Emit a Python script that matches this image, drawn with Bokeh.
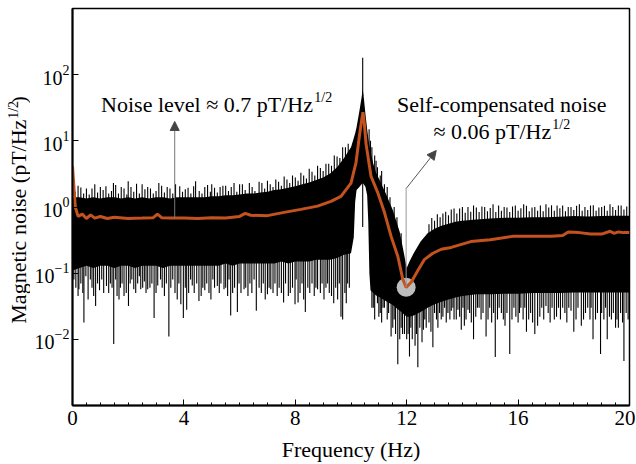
import numpy as np
from bokeh.plotting import figure
from bokeh.layouts import row
from bokeh.models import FixedTicker, Label, Arrow, NormalHead, Range1d
from bokeh.core.properties import value
from bokeh.embed import file_html
from bokeh.resources import INLINE

# ---------------- data ----------------
x_ticks = [0, 4, 8, 12, 16, 20]
y_ticks = [1e-2, 1e-1, 1e0, 1e1, 1e2]

# dense black noise band: frequency, upper and lower edge (pT/Hz^1/2)
band_f = [0.0, 0.25, 0.5, 0.75, 1.0, 1.25, 1.5, 1.75, 2.0, 2.25, 2.5, 2.75, 3.0, 3.25, 3.5, 3.75,
          4.0, 4.25, 4.5, 4.75, 5.0, 5.25, 5.5, 5.75, 6.0, 6.25, 6.5, 6.75, 7.0, 7.25, 7.5, 7.75,
          8.0, 8.25, 8.5, 8.75, 9.0, 9.25, 9.5, 9.75,
          10.0, 10.1, 10.15, 10.2, 10.3, 10.38, 10.42, 10.46, 10.52, 10.58, 10.62, 10.66, 10.7, 10.8, 10.9, 11.0,
          11.25, 11.5, 11.75, 11.9, 12.0, 12.1, 12.25, 12.5, 12.75, 13.0,
          13.25, 13.5, 13.75, 14.0,
          14.5, 15.0, 15.5, 16.0, 16.5, 17.0, 17.5, 18.0, 18.5, 19.0, 19.5, 20.0]
band_hi = [1.4, 1.4, 1.35, 1.4, 1.35, 1.4, 1.4, 1.35, 1.4, 1.35, 1.4, 1.35, 1.4, 1.4, 1.35, 1.4,
           1.4, 1.4, 1.4, 1.4, 1.45, 1.45, 1.5, 1.5, 1.55, 1.6, 1.6, 1.65, 1.7, 1.8, 1.85, 1.95,
           2.05, 2.2, 2.35, 2.55, 2.8, 3.2, 4.0, 5.5,
           8.0, 11.0, 13.0, 16.0, 28.0, 45.0, 60.0, 45.0, 25.0, 15.0, 11.0, 8.5, 7.0, 4.5, 3.3, 2.7,
           1.6, 0.9, 0.42, 0.2, 0.12, 0.15, 0.2, 0.3, 0.4, 0.47,
           0.52, 0.56, 0.6, 0.62,
           0.65, 0.67, 0.69, 0.69, 0.7, 0.7, 0.71, 0.73, 0.72, 0.73, 0.74, 0.74]
band_lo = [0.11, 0.12, 0.13, 0.12, 0.13, 0.13, 0.12, 0.13, 0.13, 0.12, 0.13, 0.13, 0.13, 0.12, 0.13, 0.13,
           0.13, 0.13, 0.13, 0.13, 0.13, 0.13, 0.14, 0.13, 0.14, 0.14, 0.14, 0.14, 0.14, 0.14, 0.15, 0.14,
           0.15, 0.15, 0.15, 0.16, 0.16, 0.16, 0.17, 0.19,
           0.2, 0.35, 1.2, 1.8, 2.0, 2.2, 2.3, 2.2, 2.0, 1.5, 0.6, 0.1, 0.055, 0.05, 0.046, 0.044,
           0.038, 0.033, 0.027, 0.024, 0.022, 0.022, 0.023, 0.026, 0.03, 0.034,
           0.037, 0.04, 0.043, 0.045,
           0.048, 0.048, 0.049, 0.049, 0.05, 0.05, 0.05, 0.051, 0.051, 0.051, 0.051, 0.051]

# deep downward spikes of the raw spectrum
dip_f = [0.2, 0.23, 0.41, 0.56, 0.64, 0.83, 1.12, 1.22, 1.48, 1.6, 1.67, 1.85, 2.01, 2.2, 2.34, 2.45,
         2.7, 2.93, 3.16, 3.46, 3.76, 3.89, 3.98, 4.1, 4.24, 4.54, 4.62, 4.97, 5.2, 5.44, 5.68, 5.92,
         6.16, 6.6, 7.0, 7.12, 7.58, 7.75, 7.99, 8.1, 8.36, 8.8, 9.16, 9.3, 9.64, 9.7, 9.88, 10.42,
         10.75, 11.0, 11.2, 11.44, 11.68, 11.85, 12.1, 12.3, 12.4, 12.55, 12.7, 12.94, 13.0, 13.24,
         13.6, 13.7, 13.96, 14.07, 14.2, 14.4, 14.6, 14.85, 15.18, 15.4, 15.7, 16.0, 16.1, 16.3,
         16.6, 16.7, 17.0, 17.3, 17.6, 17.9, 18.0, 18.27, 18.5, 18.69, 18.96, 19.0, 19.2, 19.35,
         19.5, 19.6, 19.8]
dip_v = [0.045, 0.057, 0.018, 0.04, 0.08, 0.032, 0.05, 0.064, 0.0085, 0.045, 0.04, 0.045, 0.032, 0.057, 0.07, 0.057,
         0.057, 0.021, 0.08, 0.011, 0.04, 0.034, 0.021, 0.028, 0.08, 0.038, 0.045, 0.04, 0.064, 0.057, 0.023, 0.026,
         0.057, 0.027, 0.048, 0.057, 0.036, 0.045, 0.034, 0.036, 0.026, 0.057, 0.07, 0.045, 0.022, 0.02, 0.07, 0.5,
         0.03, 0.022, 0.03, 0.011, 0.0042, 0.012, 0.0055, 0.008, 0.0038, 0.009, 0.015, 0.0076, 0.025, 0.02,
         0.027, 0.02, 0.014, 0.016, 0.028, 0.01, 0.03, 0.011, 0.0054, 0.025, 0.006, 0.018, 0.03, 0.013,
         0.012, 0.016, 0.032, 0.02, 0.03, 0.027, 0.013, 0.016, 0.03, 0.01, 0.006, 0.025, 0.01, 0.02,
         0.015, 0.015, 0.0047]

# shallow downward fringe of the raw spectrum
fringe_dn_f = [0.05, 0.12, 0.3, 0.37, 0.48, 0.7, 0.76, 0.9, 0.97, 1.05, 1.3, 1.36, 1.42, 1.55, 1.72, 1.78,
               1.93, 2.07, 2.13, 2.27, 2.4, 2.52, 2.58, 2.64, 2.78, 2.85, 3.0, 3.06, 3.22, 3.3, 3.37, 3.53,
               3.6, 3.68, 3.82, 4.05, 4.17, 4.3, 4.37, 4.46, 4.68, 4.75, 4.82, 4.9, 5.04, 5.1, 5.27, 5.33,
               5.5, 5.57, 5.62, 5.75, 5.82, 5.98, 6.05, 6.22, 6.3, 6.37, 6.44, 6.52, 6.7, 6.78, 6.85, 6.92,
               7.06, 7.2, 7.27, 7.35, 7.42, 7.5, 7.65, 7.82, 7.9, 8.03, 8.17, 8.24, 8.3, 8.45, 8.52, 8.6,
               8.68, 8.74, 8.9, 8.96, 9.03, 9.1, 9.22, 9.38, 9.45, 9.52, 9.58, 9.78, 9.83, 9.94,
               10.8, 10.85, 10.95, 11.05, 11.1, 11.15, 11.3, 11.35, 11.5, 11.55, 11.6, 11.75, 11.8, 11.92,
               12.0, 12.05, 12.15, 12.2, 12.35, 12.47, 12.6, 12.65, 12.8, 12.87, 13.07, 13.12, 13.18, 13.3,
               13.36, 13.42, 13.48, 13.55, 13.66, 13.78, 13.84, 13.9, 14.02, 14.13, 14.26, 14.32, 14.48,
               14.54, 14.67, 14.74, 14.92, 14.98, 15.05, 15.12, 15.26, 15.32, 15.47, 15.53, 15.6, 15.78,
               15.85, 15.92, 16.05, 16.18, 16.24, 16.38, 16.45, 16.52, 16.78, 16.85, 16.92, 17.08, 17.15,
               17.22, 17.38, 17.45, 17.52, 17.68, 17.75, 17.82, 18.08, 18.15, 18.35, 18.42, 18.58, 18.62,
               18.78, 18.85, 19.08, 19.14, 19.28, 19.42, 19.55, 19.68, 19.75, 19.88, 19.95]
fringe_dn_v = [0.08, 0.06, 0.07, 0.05, 0.09, 0.06, 0.045, 0.07, 0.055, 0.08, 0.05, 0.07, 0.06, 0.08, 0.06, 0.07,
               0.05, 0.07, 0.08, 0.05, 0.09, 0.06, 0.075, 0.05, 0.06, 0.07, 0.05, 0.065, 0.06, 0.045, 0.07, 0.06,
               0.08, 0.05, 0.07, 0.06, 0.05, 0.065, 0.05, 0.07, 0.06, 0.055, 0.07, 0.05, 0.08, 0.06, 0.05, 0.07,
               0.06, 0.045, 0.08, 0.05, 0.06, 0.07, 0.05, 0.06, 0.045, 0.07, 0.05, 0.08, 0.06, 0.05, 0.07, 0.04,
               0.06, 0.05, 0.07, 0.045, 0.06, 0.05, 0.07, 0.05, 0.06, 0.08, 0.05, 0.07, 0.04, 0.06, 0.05, 0.07,
               0.045, 0.06, 0.05, 0.07, 0.04, 0.06, 0.05, 0.035, 0.06, 0.04, 0.07, 0.05, 0.035, 0.06,
               0.03, 0.02, 0.035, 0.025, 0.018, 0.03, 0.02, 0.025, 0.015, 0.02, 0.012, 0.01, 0.015, 0.012,
               0.01, 0.012, 0.015, 0.01, 0.012, 0.015, 0.014, 0.02, 0.018, 0.013, 0.02, 0.015, 0.025, 0.022,
               0.03, 0.018, 0.025, 0.02, 0.03, 0.02, 0.028, 0.022, 0.03, 0.02, 0.025, 0.018, 0.022,
               0.03, 0.02, 0.025, 0.02, 0.03, 0.018, 0.025, 0.02, 0.03, 0.02, 0.016, 0.025, 0.02,
               0.03, 0.022, 0.025, 0.02, 0.03, 0.02, 0.025, 0.018, 0.022, 0.03, 0.02, 0.025, 0.018,
               0.03, 0.022, 0.03, 0.02, 0.025, 0.018, 0.03, 0.02, 0.03, 0.02, 0.025, 0.02, 0.03,
               0.02, 0.025, 0.02, 0.03, 0.022, 0.025, 0.02, 0.025, 0.018, 0.025, 0.02]

# tall upward spikes of the raw spectrum
peak_f = [0.3, 0.7, 1.0, 1.47, 1.75, 2.0, 2.5, 2.8, 3.1, 3.4, 3.85, 4.15, 4.42, 4.75, 5.0, 5.3, 5.5,
          5.8, 6.1, 6.35, 6.7, 7.0, 7.3, 7.6, 7.9, 8.2, 8.5, 8.8, 9.1, 9.4, 9.7, 10.42, 10.7, 10.9, 11.1,
          13.3, 13.7, 14.0, 14.4, 14.8, 15.1, 15.5, 15.9, 16.2, 16.6, 17.0, 17.4, 17.8, 18.2, 18.6,
          19.0, 19.3, 19.7]
peak_v = [1.97, 1.9, 2.0, 2.3, 2.0, 2.45, 2.2, 1.9, 2.3, 2.0, 2.06, 1.95, 2.45, 2.0, 2.2, 2.0, 2.1,
          2.3, 2.2, 2.3, 2.4, 2.5, 2.6, 2.9, 3.0, 3.3, 3.8, 4.2, 4.5, 6.0, 8.0, 180.0, 10.0, 5.0, 3.5,
          0.8, 0.95, 1.0, 1.05, 1.0, 1.1, 1.0, 1.05, 1.1, 1.0, 1.1, 1.05, 1.0, 1.1, 1.05,
          1.0, 1.1, 1.05]

# short upward fringe of the raw spectrum
fringe_up_f = [0.1, 0.2, 0.4, 0.5, 0.6, 0.8, 0.9, 1.1, 1.2, 1.3, 1.4, 1.55, 1.65, 1.85, 1.95, 2.1, 2.2, 2.3,
               2.4, 2.6, 2.7, 2.9, 3.0, 3.2, 3.3, 3.5, 3.6, 3.7, 3.95, 4.05, 4.25, 4.35, 4.55, 4.65, 4.85,
               4.95, 5.1, 5.2, 5.4, 5.6, 5.7, 5.9, 6.0, 6.2, 6.45, 6.55, 6.8, 6.9, 7.1, 7.2, 7.4, 7.5, 7.7,
               7.8, 8.0, 8.1, 8.3, 8.4, 8.6, 8.7, 8.9, 9.0, 9.2, 9.3, 9.5, 9.6, 9.8, 9.9,
               10.65, 10.75, 10.85, 10.95, 11.05, 11.2, 11.3, 11.4, 11.55, 11.65, 11.8,
               12.8, 12.9, 13.0, 13.1, 13.2, 13.4, 13.5, 13.6, 13.8, 13.9, 14.1, 14.2, 14.3, 14.5, 14.6,
               14.7, 14.9, 15.0, 15.2, 15.3, 15.4, 15.6, 15.7, 15.8, 16.0, 16.1, 16.3, 16.4, 16.5, 16.7,
               16.8, 16.9, 17.1, 17.2, 17.3, 17.5, 17.6, 17.7, 17.9, 18.0, 18.1, 18.3, 18.4, 18.5, 18.7,
               18.8, 18.9, 19.1, 19.2, 19.4, 19.5, 19.6, 19.8, 19.9]
fringe_up_v = [1.7, 2.1, 1.6, 1.9, 1.55, 2.2, 1.65, 1.8, 2.05, 1.6,
               1.75, 2.15, 1.6, 1.9, 1.55, 2.0, 1.7, 2.25, 1.6, 1.85,
               2.0, 1.6, 1.75, 2.1, 1.65, 1.9, 1.6, 2.2, 1.7, 1.85,
               1.6, 2.05, 1.75, 1.6, 2.15, 1.7, 1.95, 1.65, 2.1, 1.75,
               2.0, 1.7, 2.2, 1.8, 2.0, 1.75, 2.3, 1.9, 2.2, 2.0,
               2.4, 2.1, 2.6, 2.3, 2.8, 2.5, 3.0, 2.7, 3.4, 3.0,
               3.9, 3.5, 4.5, 4.2, 5.8, 5.5, 8.0, 9.0,
               15.0, 8.0, 6.0, 4.0, 3.0, 2.2, 2.0, 1.4, 1.0, 0.7, 0.4,
               0.55, 0.68, 0.62, 0.78, 0.7, 0.85, 0.75, 0.92, 0.8, 0.95,
               0.82, 1.0, 0.85, 0.98, 0.84, 1.02, 0.86, 0.97, 0.84, 1.05,
               0.88, 0.98, 0.84, 1.02, 0.88, 0.96, 1.04, 0.86, 0.98, 0.88,
               1.05, 0.86, 0.98, 1.06, 0.88, 0.96, 1.05, 0.86, 1.0, 0.9,
               1.04, 0.88, 1.0, 0.9, 1.06, 0.88, 0.98, 1.04, 0.88, 1.0,
               0.9, 1.05, 0.92, 1.02]

# smoothed spectrum (orange)
smooth_f = [0.0, 0.1, 0.2, 0.35, 0.5, 0.65, 0.8, 1.0, 1.25, 1.5, 2.0, 2.5, 2.9, 3.05, 3.2, 3.5,
            4.0, 4.5, 5.0, 5.5, 6.0, 6.2, 6.4, 7.0, 7.6, 8.2, 8.8, 9.28, 9.64, 10.0, 10.18, 10.3,
            10.4, 10.43, 10.48, 10.54, 10.72, 10.96, 11.2, 11.44, 11.68, 11.86, 11.98, 12.16, 12.4,
            12.63, 12.94, 13.24, 13.6, 14.3, 15.0, 15.8, 16.5, 17.2, 17.6, 17.8, 18.2, 18.6, 19.0,
            19.3, 19.45, 19.6, 19.8, 20.0]
smooth_v = [4.1, 1.0, 0.72, 0.78, 0.67, 0.76, 0.68, 0.72, 0.67, 0.70, 0.67, 0.68, 0.69, 0.78, 0.69, 0.68,
            0.68, 0.67, 0.69, 0.68, 0.72, 0.8, 0.75, 0.74, 0.83, 0.92, 1.03, 1.22, 1.45, 2.3, 4.7, 11.7,
            23.0, 27.0, 18.0, 9.0, 2.9, 1.65, 0.83, 0.36, 0.18, 0.081, 0.061, 0.073, 0.11,
            0.16, 0.2, 0.23, 0.245, 0.3, 0.32, 0.36, 0.36, 0.36, 0.37, 0.42, 0.41, 0.39, 0.39,
            0.43, 0.40, 0.42, 0.41, 0.41]

assert len(band_f) == len(band_hi) == len(band_lo)
assert len(dip_f) == len(dip_v) and len(peak_f) == len(peak_v)
assert len(fringe_dn_f) == len(fringe_dn_v) and len(fringe_up_f) == len(fringe_up_v)
assert len(smooth_f) == len(smooth_v)

SERIF = "Liberation Serif"
ORANGE = "#c4521e"
FRAME_W, FRAME_H = 557, 397
TOP, BOTTOM, LEFT, RIGHT = 8, 57, 42, 6
TOTAL_H = TOP + FRAME_H + BOTTOM
YLAB_W = 30

p = figure(frame_width=FRAME_W, frame_height=FRAME_H, x_range=(0, 20), y_range=(1e-3, 1e3),
           y_axis_type="log", output_backend="svg", toolbar_location=None,
           min_border_left=LEFT, min_border_right=RIGHT, min_border_top=TOP, min_border_bottom=BOTTOM)
p.grid.visible = False
p.outline_line_color = "black"
p.outline_line_width = 1.5

# axes
p.xaxis.ticker = FixedTicker(ticks=x_ticks, minor_ticks=list(np.arange(0, 20.01, 0.5)))
p.yaxis.ticker = FixedTicker(ticks=y_ticks, minor_ticks=[])
for ax in (p.xaxis[0], p.yaxis[0]):
    ax.axis_line_width = 2
    ax.axis_line_color = "black"
    ax.major_tick_in = 6
    ax.major_tick_out = 0
    ax.minor_tick_in = 3
    ax.minor_tick_out = 0
    ax.major_tick_line_color = "black"
    ax.minor_tick_line_color = "black"
    ax.major_label_text_font = SERIF
    ax.major_label_text_color = "black"
p.xaxis.major_label_text_font_size = "21px"
p.yaxis.major_label_text_font_size = "20px"
p.xaxis.major_label_standoff = 5
p.yaxis.major_label_standoff = 3
p.xaxis.axis_label = "Frequency (Hz)"
p.xaxis.axis_label_text_font = SERIF
p.xaxis.axis_label_text_font_size = "22px"
p.xaxis.axis_label_text_font_style = "normal"
p.xaxis.axis_label_text_color = "black"
p.xaxis.axis_label_standoff = 9

# raw spectrum: dense band + isolated spikes
bf = np.array(band_f)
lg_hi = np.log10(band_hi)
lg_lo = np.log10(band_lo)
p.varea(x=band_f, y1=band_lo, y2=band_hi, fill_color="black")
dn_f = np.array(dip_f + fringe_dn_f)
dn_v = np.array(dip_v + fringe_dn_v)
dn_start = 10 ** np.interp(dn_f, bf, lg_lo + 0.1)
p.segment(x0=dn_f, y0=dn_start, x1=dn_f, y1=dn_v, line_color="black", line_width=1.1)
up_f = np.array(peak_f + fringe_up_f)
up_v = np.array(peak_v + fringe_up_v)
up_start = 10 ** np.interp(up_f, bf, lg_hi - 0.1)
p.segment(x0=up_f, y0=up_start, x1=up_f, y1=up_v, line_color="black", line_width=1.1)

# marker of the self-compensated minimum
imin = int(np.argmin(smooth_v))
fmin, vmin = smooth_f[imin], smooth_v[imin]
p.scatter(x=[fmin], y=[vmin], size=19, fill_color="#bdbdbd", line_color=None)

# smoothed spectrum
p.line(smooth_f, smooth_v, line_color=ORANGE, line_width=3)

# annotations: arrows
f_arrow1 = 3.67
v_arrow1 = 10 ** np.interp(f_arrow1, smooth_f, np.log10(smooth_v))
p.add_layout(Arrow(end=NormalHead(size=9, fill_color="#444444", line_color="#444444", line_width=1),
                   x_start=f_arrow1, y_start=v_arrow1, x_end=f_arrow1, y_end=19.6,
                   line_color="#777777", line_width=1))
p.segment(x0=[fmin], y0=[vmin], x1=[fmin], y1=[1.9], line_color="#999999", line_width=1)
p.add_layout(Arrow(end=NormalHead(size=9, fill_color="#444444", line_color="#444444", line_width=1),
                   x_start=fmin, y_start=1.9, x_end=13.06, y_end=7.14,
                   line_color="#555555", line_width=1))

# annotations: texts
def lab(x, y, text, size, align="left"):
    p.add_layout(Label(x=x, y=y, text=text, text_font=SERIF, text_font_size=size,
                       text_align=align, text_baseline="alphabetic", text_color="black"))

lab(8.633, 35.4, "Noise level \u2248 0.7 pT/Hz", "22px", "right")
lab(8.68, 45.2, "1/2", "14px")
lab(15.41, 35.4, "Self-compensated noise", "22px", "center")
lab(17.19, 13.8, "\u2248 0.06 pT/Hz", "22px", "right")
lab(17.23, 17.7, "1/2", "14px")

# y-axis title in its own narrow strip (rotated, with superscript)
ylab = figure(width=YLAB_W, height=TOTAL_H, x_range=Range1d(0, YLAB_W), y_range=Range1d(0, TOTAL_H),
              output_backend="svg", toolbar_location=None, min_border=0,
              x_axis_location=None, y_axis_location=None)
ylab.grid.visible = False
ylab.outline_line_color = None
ylab.text(x=[17.5], y=[TOTAL_H - 130], text=["Magnetic noise (pT/Hz"], angle=np.pi / 2,
          text_font=value(SERIF), text_font_size="22px", text_align="right",
          text_baseline="middle", text_color="black")
ylab.text(x=[12.5], y=[TOTAL_H - 129], text=["1/2"], angle=np.pi / 2,
          text_font=value(SERIF), text_font_size="14px", text_align="left",
          text_baseline="middle", text_color="black")
ylab.text(x=[17.5], y=[TOTAL_H - 111], text=[")"], angle=np.pi / 2,
          text_font=value(SERIF), text_font_size="22px", text_align="left",
          text_baseline="middle", text_color="black")

open("out.html", "w").write(file_html(row(ylab, p), INLINE))
